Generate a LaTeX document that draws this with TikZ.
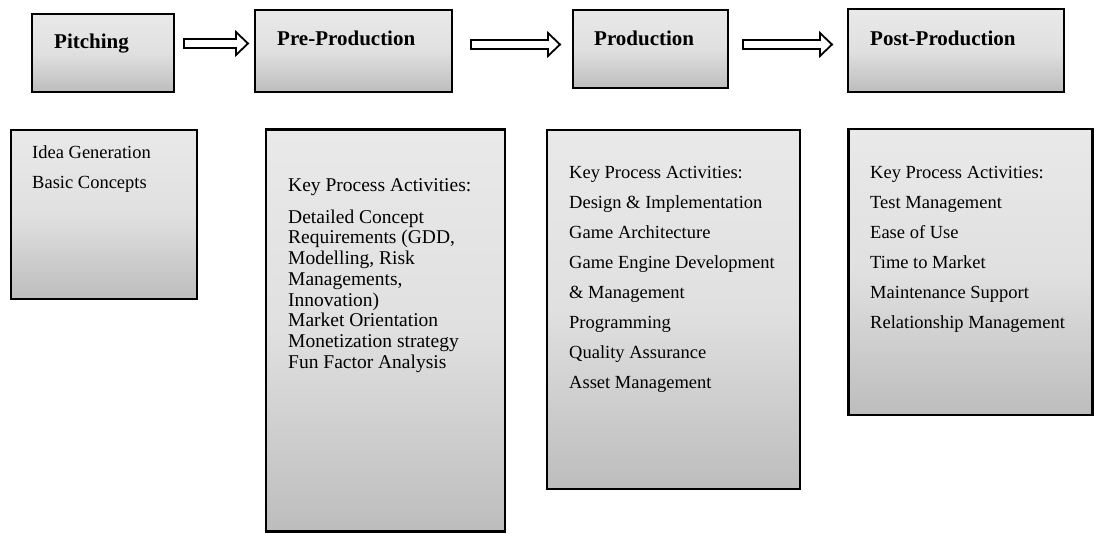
\documentclass[tikz,border=0pt]{standalone}
\usepackage{fontspec}
\setmainfont{Liberation Serif}
\usetikzlibrary{calc}
\definecolor{boxtop}{HTML}{E9E9E9}
\definecolor{boxmid}{HTML}{E0E0E0}
\definecolor{boxbot}{HTML}{BDBDBD}
\newcommand{\myblockarrow}[4]{% x start, x end, y centre, name
  \coordinate (#4s) at (#1,#3);
  \coordinate (#4e) at (#2,#3);
  \draw[blockarr] ($(#4s)+(0,-4.5)$) -- ($(#4e)+(-12,-4.5)$) -- ($(#4e)+(-12,-11.5)$) -- (#4e)
    -- ($(#4e)+(-12,11.5)$) -- ($(#4e)+(-12,4.5)$) -- ($(#4s)+(0,4.5)$) -- cycle;}
\begin{document}
\begin{tikzpicture}[x=1pt,y=-1pt,
  box/.style={draw=black, line width=2.5pt, top color=boxtop, bottom color=boxbot, middle color=boxmid, inner sep=0pt},
  titletext/.style={font=\fontsize{21}{25}\selectfont\bfseries, inner sep=0pt, anchor=base west},
  bodytext/.style={font=\fontsize{18.5}{30}\selectfont, inner sep=0pt, anchor=north west, align=left},
  blockarr/.style={draw=black, fill=white, line width=1.8pt, line join=miter}]
\useasboundingbox (0,0) rectangle (1094,534);
% title boxes
\node[box, minimum width=142, minimum height=78] (pitch) at (103,53) {};
\node[box, minimum width=197, minimum height=82] (pre) at (353.5,51) {};
\node[box, minimum width=155, minimum height=78] (prod) at (650.5,49) {};
\node[box, minimum width=216, minimum height=83] (post) at (956,50.5) {};
\node[titletext] (pitchT) at (54,49) {Pitching};
\node[titletext] (preT) at (277,46) {Pre-Production};
\node[titletext] (prodT) at (594,46) {Production};
\node[titletext] (postT) at (870,46) {Post-Production};
% arrows
\myblockarrow{184}{248}{43.5}{aa}
\myblockarrow{471}{560}{44.5}{ab}
\myblockarrow{743}{832}{44.5}{ac}
% detail boxes
\node[box, minimum width=186, minimum height=169] (pitchD) at (104,214.5) {};
\node[box, minimum width=239, minimum height=402] (preD) at (385.5,330.5) {};
\node[box, minimum width=253, minimum height=359] (prodD) at (673.5,309.5) {};
\node[box, minimum width=244, minimum height=286] (postD) at (970.5,272) {};
\node[bodytext] (pitchDT) at (32,145) {Idea Generation\\Basic Concepts};
\node[bodytext, font=\fontsize{19.5}{20.75}\selectfont] (preDT) at (288,178) {Key Process Activities:\\[11.25pt]Detailed Concept\\Requirements (GDD,\\Modelling, Risk\\Managements,\\Innovation)\\Market Orientation\\Monetization strategy\\Fun Factor Analysis};
\node[bodytext] (prodDT) at (569,166) {Key Process Activities:\\Design \& Implementation\\Game Architecture\\Game Engine Development\\\& Management\\Programming\\Quality Assurance\\Asset Management};
\node[bodytext] (postDT) at (870,166) {Key Process Activities:\\Test Management\\Ease of Use\\Time to Market\\Maintenance Support\\Relationship Management};
\end{tikzpicture}
\end{document}
